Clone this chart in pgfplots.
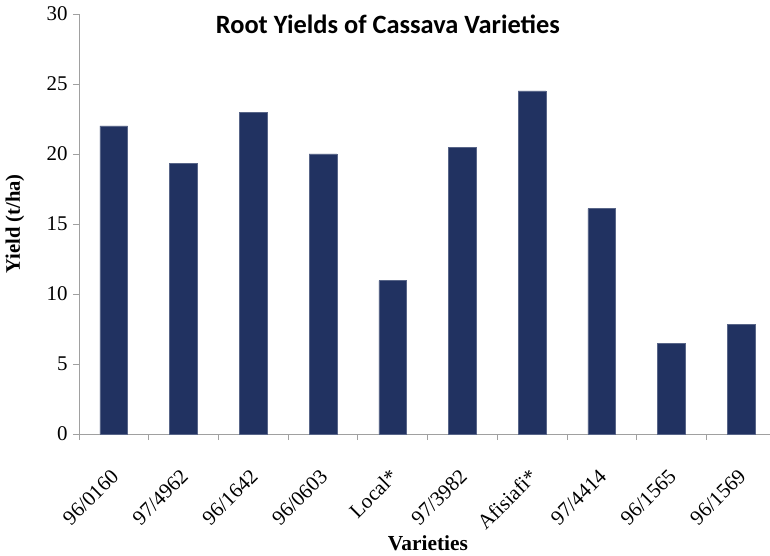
\documentclass[border=0pt]{standalone}
\usepackage{fontspec}
\setmainfont{Liberation Serif}
\newfontfamily\titlefont{Carlito}
\usepackage{pgfplots}
\pgfplotsset{compat=1.18}
\definecolor{barblue}{RGB}{33,50,97}
\definecolor{axgray}{RGB}{160,160,160}
\begin{document}
\begin{tikzpicture}
\begin{axis}[
  at={(0,0)}, anchor=south west,
  scale only axis,
  width=691bp, height=420bp,
  xmin=-0.5, xmax=9.414,
  ymin=0, ymax=30,
  ytick={0,5,...,30},
  xtick={0,...,9},
  xticklabels={96/0160,97/4962,96/1642,96/0603,Local*,97/3982,Afisiafi*,97/4414,96/1565,96/1569},
  minor xtick={-0.5,0.5,...,8.5},
  axis x line*=bottom, axis y line*=left,
  axis line style={draw=axgray, line width=0.8pt},
  tick align=outside,
  major tick length=6bp, minor tick length=6bp,
  tick style={draw=axgray, line width=0.8pt},
  major x tick style={draw=none},
  /pgf/number format/assume math mode=true,
  tick label style={font=\fontsize{21}{22}\selectfont},
  yticklabel style={xshift=-2bp},
  xticklabel style={xshift=-4bp, rotate=45, anchor=north east},
  xticklabel shift=23bp,
  ylabel={\textbf{Yield (t/ha)}},
  ylabel style={at={(axis description cs:-0.0926,0.5)}, anchor=center, font=\fontsize{20.7}{22}\selectfont},
  xlabel={\textbf{Varieties}},
  xlabel style={at={(axis description cs:0.505,-0.2595)}, anchor=center, font=\fontsize{21.5}{22}\selectfont},
  title={\titlefont\bfseries Root Yields of Cassava Varieties},
  title style={at={(axis description cs:0.447,0.962)}, anchor=center, font=\fontsize{26.5}{28}\selectfont},
]
\addplot[ybar, bar width=27.7bp, fill=barblue, draw=barblue!75!white, line width=0.5pt]
  coordinates {(0,22.0) (1,19.33) (2,22.95) (3,20.0) (4,10.95) (5,20.48) (6,24.5) (7,16.1) (8,6.45) (9,7.85)};
\end{axis}
\pgfresetboundingbox
\path[use as bounding box] (-79bp,-122bp) rectangle (691bp,434bp);
\end{tikzpicture}
\end{document}
